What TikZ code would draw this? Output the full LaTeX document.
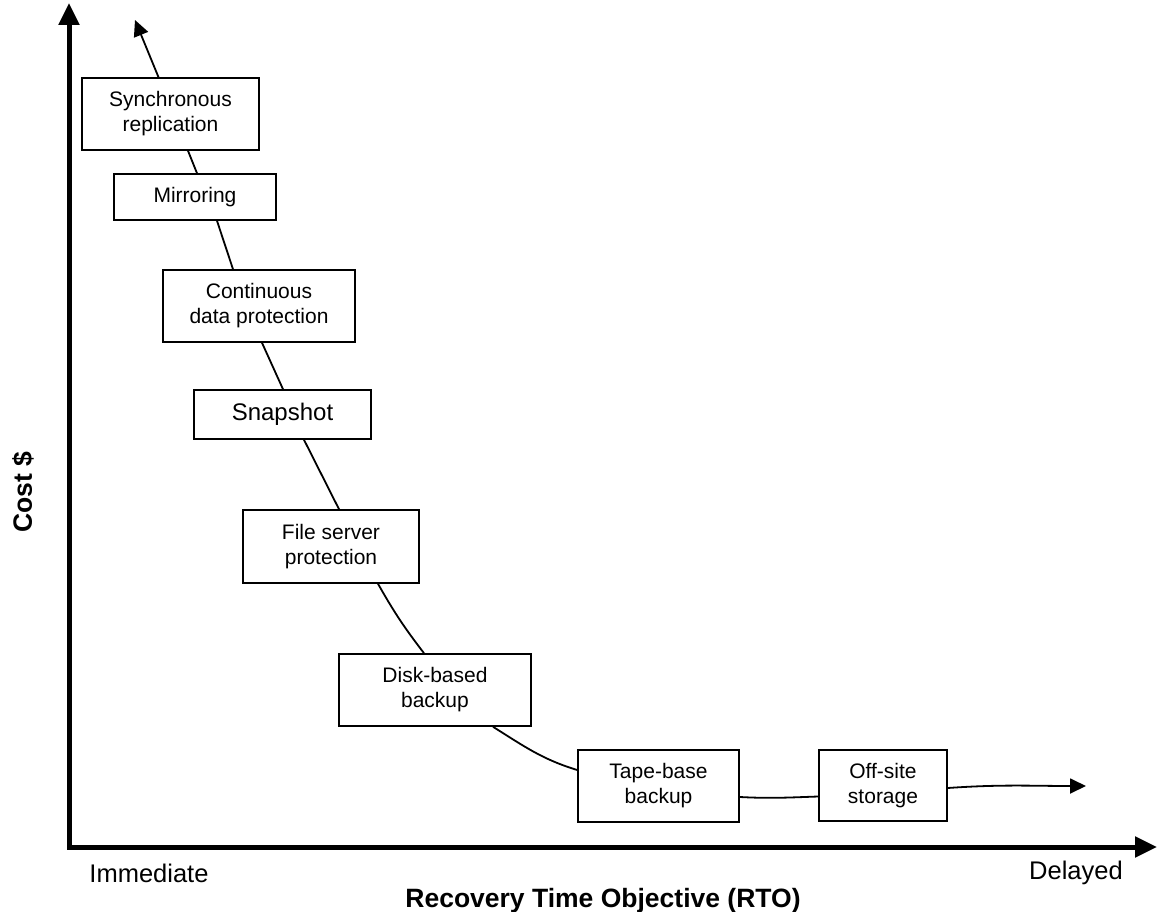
\documentclass[tikz,border=0pt]{standalone}
\usepackage{fontspec}
\setmainfont{Liberation Sans}
\usetikzlibrary{arrows.meta,calc}

\begin{document}
\begin{tikzpicture}[x=1pt,y=-1pt,
  stage/.style={draw,line width=1.6pt,fill=white,inner sep=0pt,align=center,
    font=\fontsize{21}{25}\selectfont},
  link/.style={line width=1.8pt},
  linkarrow/.style={link,-{Triangle[length=16pt,width=15pt]}},
  axis/.style={line width=5pt,{Triangle[length=22pt,width=20pt]}-{Triangle[length=22pt,width=20pt]}},
  ticklabel/.style={font=\fontsize{25.5}{30}\selectfont},
  axislabel/.style={font=\fontsize{26.5}{31}\selectfont\bfseries}]

\useasboundingbox (0,0) rectangle (1159,912);

% axes
\coordinate (origin) at (69,847);
\coordinate (ytip) at (69,3);
\coordinate (xtip) at (1157,847);
\draw[axis] (ytip) -- (origin) -- (xtip);

% cost-versus-RTO stages
\node[stage,minimum width=177pt,minimum height=72pt] (sync)   at (170.5,114)   {Synchronous\\replication};
\node[stage,minimum width=162pt,minimum height=46pt] (mirror) at (195,197)     {Mirroring};
\node[stage,minimum width=192pt,minimum height=72pt] (cdp)    at (259,306)     {Continuous\\data protection};
\node[stage,minimum width=177pt,minimum height=49pt,font=\fontsize{24}{28}\selectfont] (snap) at (282.5,414.5) {Snapshot};
\node[stage,minimum width=176pt,minimum height=73pt] (fsp)    at (331,546.5)   {File server\\protection};
\node[stage,minimum width=192pt,minimum height=72pt] (disk)   at (435,690)     {Disk-based\\backup};
\node[stage,minimum width=161pt,minimum height=72pt] (tape)   at (658.5,786)   {Tape-base\\backup};
\node[stage,minimum width=128pt,minimum height=71pt] (offsite) at (883,785.5)  {Off-site\\storage};

% free ends of the curve
\coordinate (topend) at (135,20);
\coordinate (rightend) at (1086,786);

% the cost curve through the stages
\draw[linkarrow] ([xshift=-12pt]sync.north) -- (topend);
\draw[link] ([xshift=17.5pt]sync.south) -- ([xshift=2pt]mirror.north);
\draw[link] ([xshift=22pt]mirror.south) -- ([xshift=-26pt]cdp.north);
\draw[link] ([xshift=3pt]cdp.south) -- ([xshift=0.5pt]snap.north);
\draw[link] ([xshift=21.5pt]snap.south) -- ([xshift=8pt]fsp.north);
\draw[link] ([xshift=47pt]fsp.south) to[bend right=4] ([xshift=-11pt]disk.north);
\draw[link] ([xshift=58pt]disk.south) to[out=-32,in=163] ([yshift=16pt]tape.west);
\draw[link] ([yshift=-11pt]tape.east) to[out=-3,in=182] ([yshift=-11pt]offsite.west);
\draw[linkarrow] ([yshift=-2.5pt]offsite.east) to[out=4,in=180] (rightend);

% axis texts
\node[ticklabel] (immediate) at (149,873) {Immediate};
\node[ticklabel] (delayed) at (1076,873) {Delayed};
\node[axislabel] (rto) at (603,901) {Recovery Time Objective (RTO)};
\node[axislabel,rotate=90] (cost) at (23,492) {Cost \$};
\end{tikzpicture}
\end{document}
